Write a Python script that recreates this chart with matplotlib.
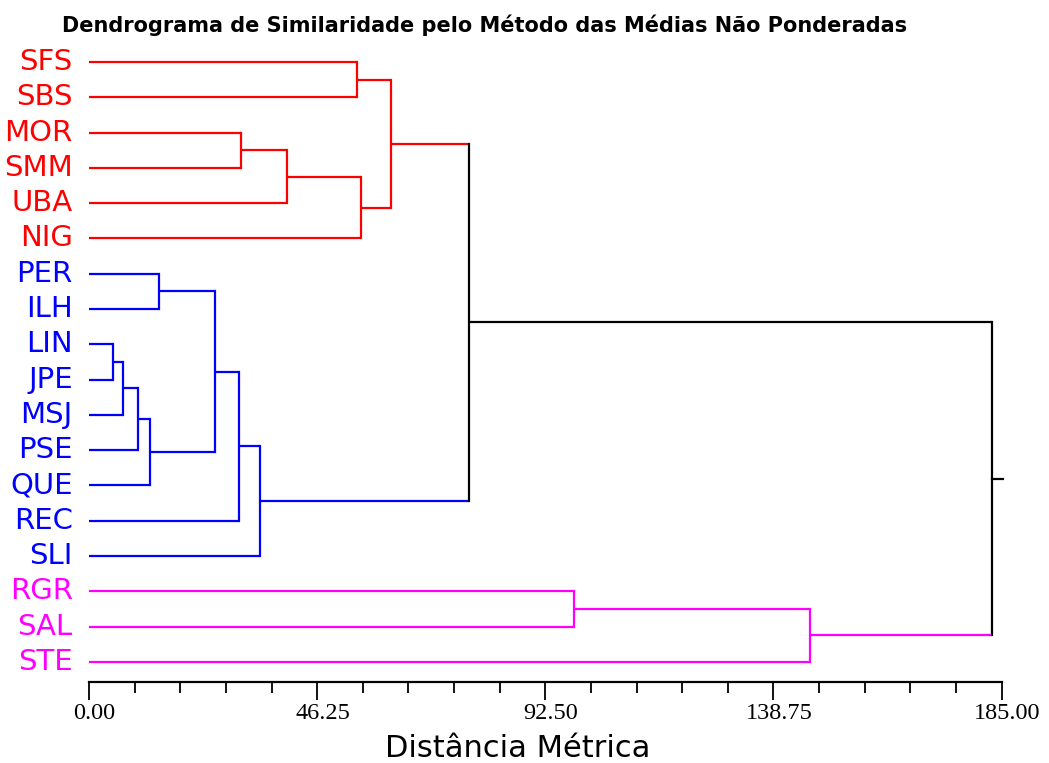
import matplotlib.pyplot as plt
from matplotlib.transforms import ScaledTranslation

# --- data ---
labels = ['SFS', 'SBS', 'MOR', 'SMM', 'UBA', 'NIG', 'PER', 'ILH', 'LIN',
          'JPE', 'MSJ', 'PSE', 'QUE', 'REC', 'SLI', 'RGR', 'SAL', 'STE']
leaf_colors = ['#ff0000'] * 6 + ['#0000ff'] * 9 + ['#ff00ff'] * 3

# merges: node ids 0..17 are leaves, new nodes get 18, 19, ...
merge_a = [8, 18, 19, 20, 6, 22, 23, 24, 2, 26, 0, 27, 28, 30, 15, 32, 31]
merge_b = [9, 10, 11, 12, 7, 21, 13, 14, 3, 4, 1, 5, 29, 25, 16, 17, 33]
merge_h = [4.81, 6.95, 9.94, 12.43, 14.19, 25.55, 30.35, 34.67, 30.88,
           40.21, 54.34, 55.21, 61.23, 77.05, 98.40, 146.25, 183.03]
root_stub = 185.26

ticks = [0, 46.25, 92.5, 138.75, 185]
tick_labels = ['0.00', '46.25', '92.50', '138.75', '185.00']

fig = plt.figure(figsize=(10.49, 7.63), dpi=100)
ax = fig.add_axes([89.0 / 1049, 0.1058, 912.5 / 1049, 0.8406])

# node positions
ypos = list(range(len(labels)))
xpos = [0.0] * len(labels)
col = list(leaf_colors)
lw = 1.6
for a, b, h in zip(merge_a, merge_b, merge_h):
	c = col[a] if col[a] == col[b] else 'black'
	for ch in (a, b):
		ax.plot([xpos[ch], h], [ypos[ch], ypos[ch]], color=col[ch], lw=lw,
				solid_capstyle='butt', clip_on=False)
	ax.plot([h, h], [ypos[a], ypos[b]], color=c, lw=lw,
			solid_capstyle='projecting', clip_on=False)
	ypos.append((ypos[a] + ypos[b]) / 2)
	xpos.append(h)
	col.append(c)

# stub of the root
ax.plot([xpos[-1], root_stub], [ypos[-1], ypos[-1]], color='black', lw=lw,
		clip_on=False)

for i, lab in enumerate(labels):
	ax.text(-3.3, i, lab, ha='right', va='center', fontsize=21,
			color=leaf_colors[i], family='DejaVu Sans')

ax.set_xlim(0, 185)
ax.set_ylim(17.58, -0.6)
for s in ['top', 'right', 'left']:
	ax.spines[s].set_visible(False)
ax.spines['bottom'].set_linewidth(1.6)
ax.set_yticks([])
ax.set_xticks(ticks)
ax.set_xticklabels(tick_labels, family='Liberation Serif', fontsize=17.5)
ax.set_xticks([t for t in [i * 9.25 for i in range(21)] if t not in ticks], minor=True)
ax.tick_params(axis='x', which='major', length=12.7, width=1.3, pad=2.5)
ax.tick_params(axis='x', which='minor', length=8, width=1.3)
shift = ScaledTranslation(5.5 / 100, 0, fig.dpi_scale_trans)
for t in ax.get_xticklabels():
	t.set_transform(t.get_transform() + shift)

fig.text(485 / 1049, 0.9585, 'Dendrograma de Similaridade pelo Método das Médias Não Ponderadas',
		 ha='center', va='baseline', fontsize=15, fontweight='bold', family='DejaVu Sans')
fig.text(518 / 1049, 0.0079, 'Distância Métrica', ha='center', va='baseline',
		 fontsize=22, family='DejaVu Sans')

fig.savefig('out.png', dpi=100)
